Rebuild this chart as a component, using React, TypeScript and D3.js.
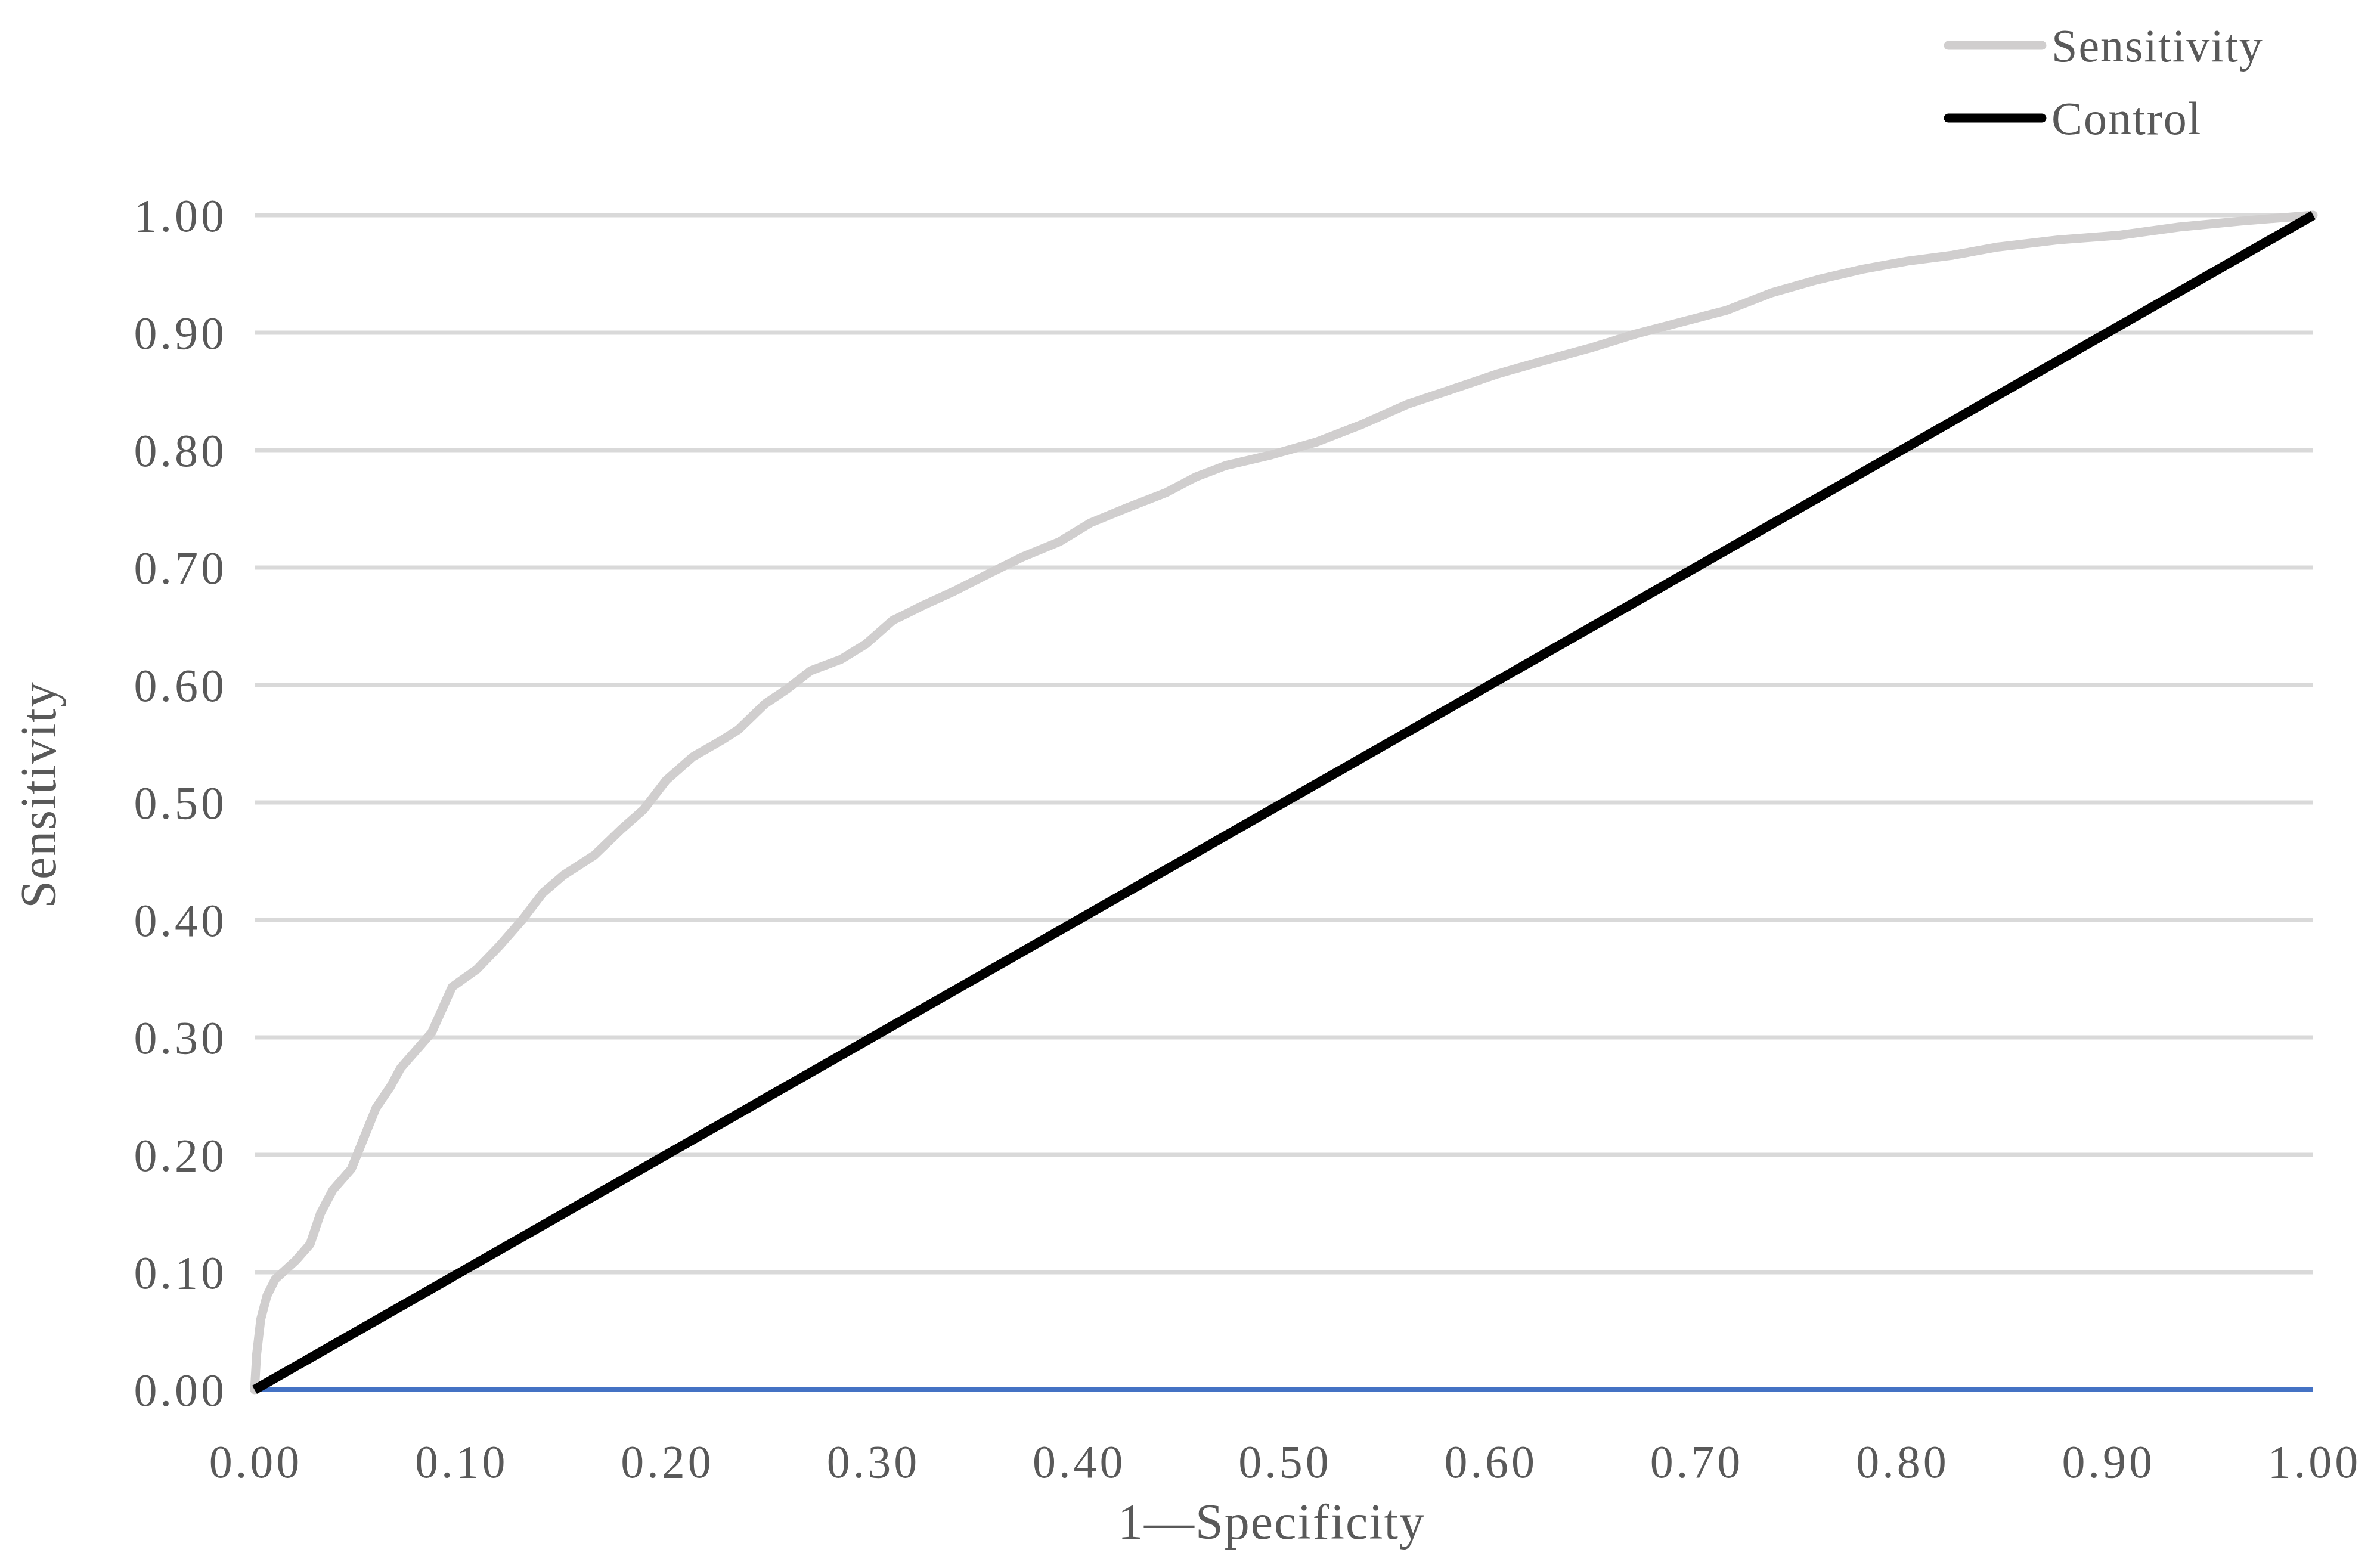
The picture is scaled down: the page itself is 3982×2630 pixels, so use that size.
import React from "react";
import * as d3 from "d3";

const W = 3982;
const H = 2630;

const fprValues = [0, 0.001, 0.003, 0.006, 0.01, 0.02, 0.027, 0.032, 0.038, 0.047, 0.053, 0.059, 0.066, 0.071, 0.079, 0.086, 0.096, 0.108, 0.119, 0.13, 0.14, 0.15, 0.165, 0.178, 0.189, 0.2, 0.213, 0.226, 0.235, 0.248, 0.259, 0.27, 0.285, 0.297, 0.31, 0.325, 0.34, 0.358, 0.373, 0.391, 0.406, 0.424, 0.443, 0.457, 0.472, 0.494, 0.516, 0.538, 0.56, 0.582, 0.604, 0.626, 0.649, 0.671, 0.693, 0.715, 0.737, 0.759, 0.781, 0.803, 0.825, 0.847, 0.876, 0.906, 0.935, 0.965, 1];
const sensitivityValues = [0, 0.03, 0.06, 0.08, 0.094, 0.11, 0.124, 0.15, 0.17, 0.188, 0.214, 0.24, 0.258, 0.274, 0.29, 0.304, 0.343, 0.358, 0.378, 0.4, 0.423, 0.438, 0.455, 0.477, 0.494, 0.519, 0.539, 0.552, 0.562, 0.584, 0.597, 0.612, 0.622, 0.635, 0.655, 0.668, 0.68, 0.696, 0.709, 0.722, 0.738, 0.751, 0.764, 0.777, 0.787, 0.796, 0.807, 0.822, 0.839, 0.852, 0.865, 0.876, 0.887, 0.899, 0.909, 0.919, 0.934, 0.945, 0.954, 0.961, 0.966, 0.973, 0.979, 0.983, 0.99, 0.995, 1];
const controlX = [0, 1];
const controlY = [0, 1];
const tickValues = [0, 0.1, 0.2, 0.3, 0.4, 0.5, 0.6, 0.7, 0.8, 0.9, 1.0];
const seriesNames = ["Sensitivity", "Control"];
const xTitle = "1\u2014Specificity";
const yTitle = "Sensitivity";

const FONT = "'Liberation Serif', 'Times New Roman', serif";
const TEXT = "#595959";

export default function App() {
  const left = 427, right = 3880, top = 361, bottom = 2331;
  const x = d3.scaleLinear().domain([0, 1]).range([left, right]);
  const y = d3.scaleLinear().domain([0, 1]).range([bottom, top]);
  const sensData = fprValues.map((v, i) => [v, sensitivityValues[i]] as [number, number]);
  const ctrlData = controlX.map((v, i) => [v, controlY[i]] as [number, number]);
  const line = d3.line<[number, number]>().x(d => x(d[0])).y(d => y(d[1]));
  const fmt = d3.format(".2f");
  return (
    <svg width={W} height={H} style={{ position: "absolute", left: 0, top: 0, background: "#fff" }}>
      <rect width={W} height={H} fill="#fff" />
      {tickValues.filter(t => t > 0).map(t => (
        <line key={"g" + t} x1={left} x2={right} y1={y(t)} y2={y(t)} stroke="#d9d9d9" strokeWidth={7} />
      ))}
      {tickValues.map(t => (
        <text key={"y" + t} x={381} y={y(t)} dy="0.35em" textAnchor="end" fontFamily={FONT} fontSize={78} letterSpacing={5} fill={TEXT}>{fmt(t)}</text>
      ))}
      {tickValues.map(t => (
        <text key={"x" + t} x={x(t) + 2} y={2451} dy="0.35em" textAnchor="middle" fontFamily={FONT} fontSize={78} letterSpacing={5} fill={TEXT}>{fmt(t)}</text>
      ))}
      <line x1={left} x2={right} y1={y(0)} y2={y(0)} stroke="#4472c4" strokeWidth={8} />
      <path d={line(sensData) || ""} fill="none" stroke="#d0cece" strokeWidth={15} strokeLinejoin="round" strokeLinecap="round" />
      <path d={line(ctrlData) || ""} fill="none" stroke="#000" strokeWidth={16} strokeLinejoin="round" />
      <text x={2133} y={2552} dy="0.35em" textAnchor="middle" fontFamily={FONT} fontSize={84} letterSpacing={2} fill={TEXT}>{xTitle}</text>
      <text transform={`translate(64,1333) rotate(-90)`} dy="0.35em" textAnchor="middle" fontFamily={FONT} fontSize={84} letterSpacing={2} fill={TEXT}>{yTitle}</text>
      {seriesNames.map((n, i) => (
        <g key={n} transform={`translate(0,${76 + i * 122})`}>
          <line x1={3268} x2={3425} y1={0} y2={0} stroke={i === 0 ? "#d0cece" : "#000"} strokeWidth={15} strokeLinecap="round" />
          <text x={3441} y={0} dy="0.35em" fontFamily={FONT} fontSize={78} letterSpacing={2} fill={TEXT}>{n}</text>
        </g>
      ))}
    </svg>
  );
}
